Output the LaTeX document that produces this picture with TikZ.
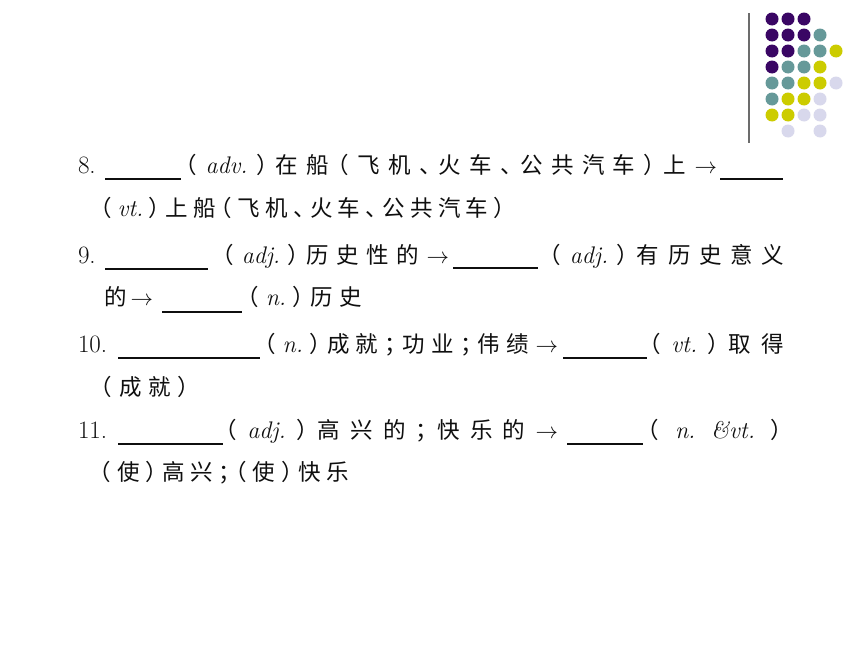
\RequirePackage{fix-cm}
\documentclass[tikz,border=0pt]{standalone}
\usepackage{fontspec}
\newfontfamily\cjk[RawFeature=+halt]{Noto Sans CJK SC}
\definecolor{dotP}{RGB}{58,6,100}
\definecolor{dotT}{RGB}{102,153,153}
\definecolor{dotY}{RGB}{204,204,0}
\definecolor{dotL}{RGB}{216,216,236}
\definecolor{ink}{RGB}{15,15,15}
\newcommand\cjkf{\cjk\fontsize{22.5}{26}\selectfont}
\newcommand\lat{\rmfamily\itshape\fontsize{24}{28}\selectfont}
\newcommand\numf{\rmfamily\upshape\fontsize{25}{30}\selectfont}
\makeatletter
\def\sp@first#1{{#1}\sp@loop}
\def\sp@loop#1{\ifx\relax#1\else\hfil{#1}\expandafter\sp@loop\fi}
\newcommand\spreadbox[2]{\makebox[#1][s]{\sp@first#2\relax}}
\makeatother
\tikzset{
  txt/.style={anchor=base west,inner sep=0pt,outer sep=0pt,text=ink},
  blank/.style={draw=ink,line width=1.1pt},
  dot/.style={circle,inner sep=0pt,minimum size=13pt},
}
\begin{document}
\begin{tikzpicture}[x=1pt,y=-1pt]
\useasboundingbox[fill=white] (0,0) rectangle (860,645);
% decoration: vertical rule and dot grid
\coordinate (vt) at (749,13);
\coordinate (vb) at (749,143);
\draw[draw=gray!85!black,line width=1.6pt] (vt) -- (vb);
\foreach \c/\r/\col in {
  0/0/dotP,1/0/dotP,2/0/dotP,
  0/1/dotP,1/1/dotP,2/1/dotP,3/1/dotT,
  0/2/dotP,1/2/dotP,2/2/dotT,3/2/dotT,4/2/dotY,
  0/3/dotP,1/3/dotT,2/3/dotT,3/3/dotY,
  0/4/dotT,1/4/dotT,2/4/dotY,3/4/dotY,4/4/dotL,
  0/5/dotT,1/5/dotY,2/5/dotY,3/5/dotL,
  0/6/dotY,1/6/dotY,2/6/dotL,3/6/dotL,
  1/7/dotL,3/7/dotL}
  \node[dot,fill=\col] (d\c\r) at ({772+16*\c},{19+16*\r}) {};

% line 1
\node[txt] (n8) at (78,173) {\numf 8.};
\coordinate (b1a) at (105,179); \coordinate (b1b) at (181,179);
\draw[blank] (b1a) -- (b1b);
\node[txt] (s1) at (186,173) {\cjkf\spreadbox{531pt}{（{\lat adv.}）在船（飞机、火车、公共汽车）上{$\rightarrow$}}};
\coordinate (b2a) at (720,179); \coordinate (b2b) at (783,179);
\draw[blank] (b2a) -- (b2b);
% line 2
\node[txt] (s2) at (101,216) {\cjkf\spreadbox{404pt}{（{\lat vt.}）上船（飞机、火车、公共汽车）}};
% line 3
\node[txt] (n9) at (78,263) {\numf 9.};
\coordinate (b3a) at (105,269); \coordinate (b3b) at (208,269);
\draw[blank] (b3a) -- (b3b);
\node[txt] (s3) at (223,263) {\cjkf\spreadbox{226pt}{（{\lat adj.}）历史性的{$\rightarrow$}}};
\coordinate (b4a) at (453,268); \coordinate (b4b) at (538,268);
\draw[blank] (b4a) -- (b4b);
\node[txt] (s4) at (550,263) {\cjkf\spreadbox{234pt}{（{\lat adj.}）有历史意义}};
% line 4
\node[txt] (s5) at (104,305) {\cjkf\spreadbox{49pt}{的{$\rightarrow$}}};
\coordinate (b5a) at (162,312); \coordinate (b5b) at (242,312);
\draw[blank] (b5a) -- (b5b);
\node[txt] (s6) at (248,305) {\cjkf\spreadbox{114pt}{（{\lat n.}）历史}};
% line 5
\node[txt] (n10) at (78,352) {\numf 10.};
\coordinate (b6a) at (118,358); \coordinate (b6b) at (260,358);
\draw[blank] (b6a) -- (b6b);
\node[txt] (s7) at (265,352) {\cjkf\spreadbox{293pt}{（{\lat n.}）成就；功业；伟绩{$\rightarrow$}}};
\coordinate (b7a) at (563,358); \coordinate (b7b) at (647,358);
\draw[blank] (b7a) -- (b7b);
\node[txt] (s8) at (650,352) {\cjkf\spreadbox{134pt}{（{\lat vt.}）取得}};
% line 6
\node[txt] (s9) at (101,395) {\cjkf\spreadbox{88pt}{（成就）}};
% line 7
\node[txt] (n11) at (78,438) {\numf 11.};
\coordinate (b8a) at (118,444); \coordinate (b8b) at (223,444);
\draw[blank] (b8a) -- (b8b);
\node[txt] (s10) at (226,438) {\cjkf\spreadbox{332pt}{（{\lat adj.}）高兴的；快乐的{$\rightarrow$}}};
\coordinate (b9a) at (567,444); \coordinate (b9b) at (643,444);
\draw[blank] (b9a) -- (b9b);
\node[txt] (s11) at (648,438) {\cjkf\spreadbox{134pt}{（{\lat n.}{\lat\&vt.}）}};
% line 8
\node[txt] (s12) at (100,480) {\cjkf\spreadbox{249pt}{（使）高兴；（使）快乐}};
\end{tikzpicture}
\end{document}
